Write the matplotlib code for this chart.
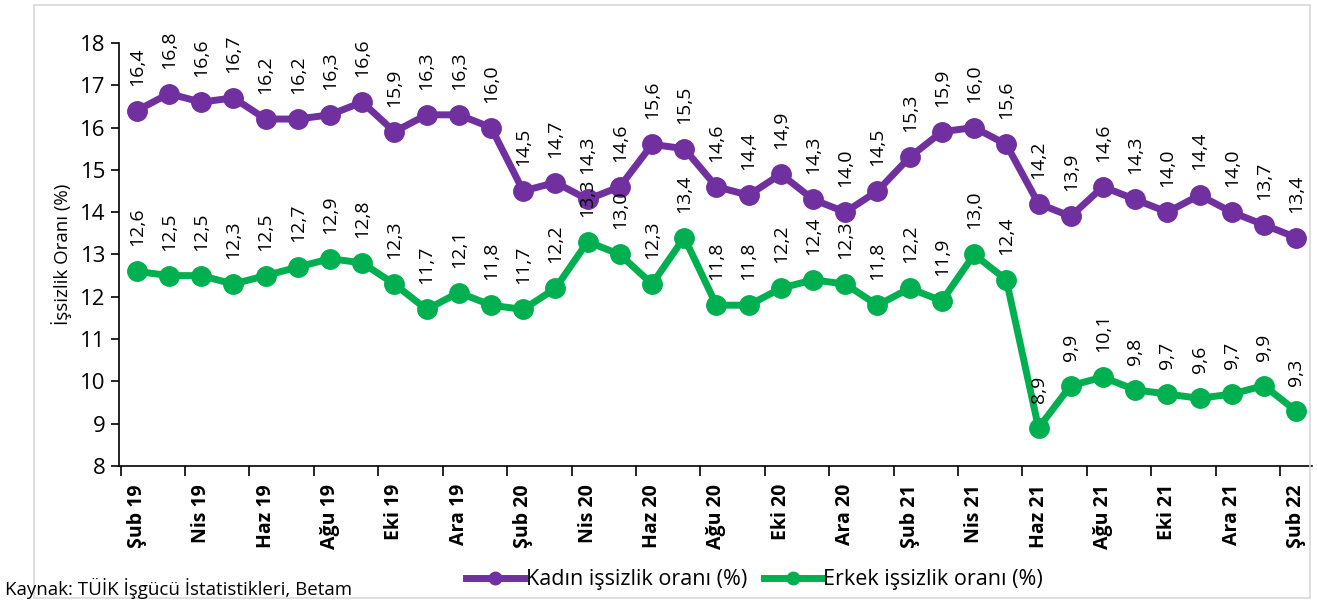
import matplotlib.pyplot as plt
from matplotlib.patches import Rectangle
from matplotlib.lines import Line2D

months = ['Şub 19', 'Mar 19', 'Nis 19', 'May 19', 'Haz 19', 'Tem 19', 'Ağu 19', 'Eyl 19',
          'Eki 19', 'Kas 19', 'Ara 19', 'Oca 20', 'Şub 20', 'Mar 20', 'Nis 20', 'May 20',
          'Haz 20', 'Tem 20', 'Ağu 20', 'Eyl 20', 'Eki 20', 'Kas 20', 'Ara 20', 'Oca 21',
          'Şub 21', 'Mar 21', 'Nis 21', 'May 21', 'Haz 21', 'Tem 21', 'Ağu 21', 'Eyl 21',
          'Eki 21', 'Kas 21', 'Ara 21', 'Oca 22', 'Şub 22']

kadin = [16.4, 16.8, 16.6, 16.7, 16.2, 16.2, 16.3, 16.6, 15.9, 16.3, 16.3, 16.0,
         14.5, 14.7, 14.3, 14.6, 15.6, 15.5, 14.6, 14.4, 14.9, 14.3, 14.0, 14.5,
         15.3, 15.9, 16.0, 15.6, 14.2, 13.9, 14.6, 14.3, 14.0, 14.4, 14.0, 13.7, 13.4]

erkek = [12.6, 12.5, 12.5, 12.3, 12.5, 12.7, 12.9, 12.8, 12.3, 11.7, 12.1, 11.8,
         11.7, 12.2, 13.3, 13.0, 12.3, 13.4, 11.8, 11.8, 12.2, 12.4, 12.3, 11.8,
         12.2, 11.9, 13.0, 12.4, 8.9, 9.9, 10.1, 9.8, 9.7, 9.6, 9.7, 9.9, 9.3]

mor = '#7030A0'
yesil = '#00B050'

plt.rcParams['font.family'] = ['Open Sans', 'DejaVu Sans']

fig = plt.figure(figsize=(13.17, 6.04), dpi=100)
ax = fig.add_axes([0.0904, 0.2285, 0.906, 0.7005])

# dış çerçeve
fig.patches.append(Rectangle((0.026, 0.01), 0.969, 0.982, transform=fig.transFigure,
                             fill=False, edgecolor='#d9d9d9', linewidth=1.2))

x = list(range(len(months)))
ax.plot(x, kadin, color=mor, linewidth=5, marker='o', markersize=14)
ax.plot(x, erkek, color=yesil, linewidth=5, marker='o', markersize=14)

for seri in (kadin, erkek):
    for xi, v in zip(x, seri):
        ax.annotate(f"{v:.1f}".replace('.', ','), (xi, v), xytext=(0, 18), textcoords='offset points',
                    rotation=90, ha='center', va='bottom', fontsize=14)

ax.set_xlim(-0.55, len(months) - 0.5)
ax.set_ylim(8, 18)
ax.set_yticks(range(8, 19))
ax.tick_params(axis='y', labelsize=16, length=6, width=1.2)

# tick çizgileri kategori sınırlarında, etiketler ortada
ax.set_xticks([i - 0.5 for i in range(0, len(months), 2)])
ax.set_xticklabels([])
ax.tick_params(axis='x', which='major', length=7, width=1.2)
ax.set_xticks(list(range(0, len(months), 2)), minor=True)
ax.set_xticklabels([months[i] for i in range(0, len(months), 2)], minor=True,
                   rotation=90, fontsize=14, fontweight='bold')
ax.tick_params(axis='x', which='minor', length=0, pad=13)

for s in ['top', 'right']:
    ax.spines[s].set_visible(False)
ax.spines['left'].set_linewidth(1.2)
ax.spines['bottom'].set_linewidth(1.2)

ax.set_ylabel('İşsizlik Oranı (%)', fontsize=13.5, labelpad=6)

handles = [Line2D([], [], color=mor, linewidth=5, marker='o', markersize=9),
           Line2D([], [], color=yesil, linewidth=5, marker='o', markersize=9)]
fig.legend(handles, ['Kadın işsizlik oranı (%)', 'Erkek işsizlik oranı (%)'],
           loc='center', bbox_to_anchor=(0.573, 0.04), ncol=2, frameon=False,
           fontsize=15.5, handlelength=2.7, handletextpad=0.05, columnspacing=0.8)

fig.text(0.004, 0.015, 'Kaynak: TÜİK İşgücü İstatistikleri, Betam', fontsize=13.5)

fig.savefig('out.png', dpi=100)
